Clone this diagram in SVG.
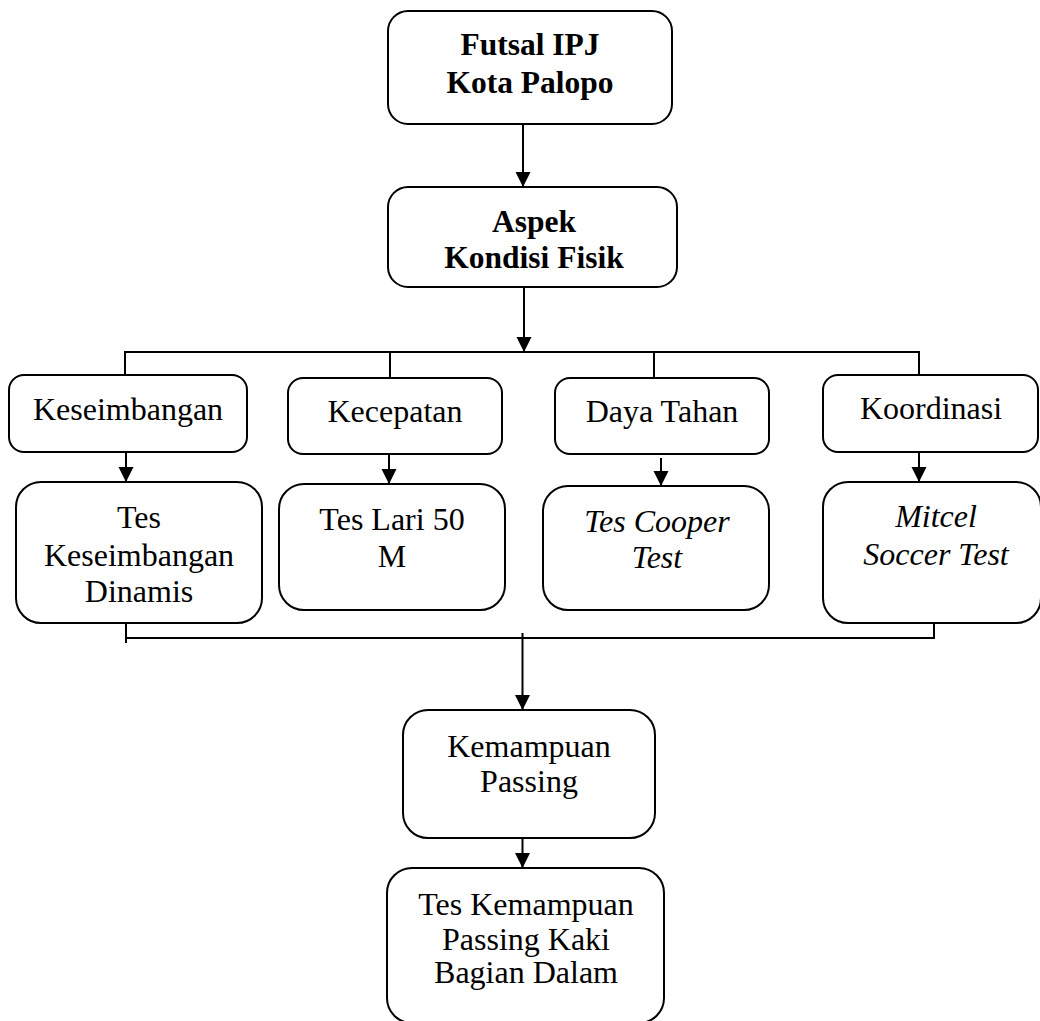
<svg xmlns="http://www.w3.org/2000/svg" width="1040" height="1021" viewBox="0 0 1040 1021">
<style>
.box{fill:#fff;stroke:#000;stroke-width:2}
.t{font-family:"Liberation Serif","Times New Roman",serif;font-size:32px;fill:#000;text-anchor:middle}
.b{font-weight:bold;font-size:31.5px}
.i{font-style:italic}
.ln{fill:none;stroke:#000;stroke-width:2}
</style>
<defs>
<marker id="ah" markerUnits="userSpaceOnUse" markerWidth="16" markerHeight="16" viewBox="0 0 16 16" refX="15" refY="8" orient="auto">
<path d="M0,0.5 L15,8 L0,15.5 Z" fill="#000"/>
</marker>
</defs>
<rect width="1040" height="1021" fill="#fff"/>
<g id="connectors">
<line class="ln" x1="523" y1="124" x2="523" y2="187" marker-end="url(#ah)"/>
<line class="ln" x1="524" y1="287" x2="524" y2="352" marker-end="url(#ah)"/>
<path class="ln" d="M125,375 V352 H919 V375"/>
<line class="ln" x1="390" y1="352" x2="390" y2="378"/>
<line class="ln" x1="654" y1="352" x2="654" y2="378"/>
<line class="ln" x1="126" y1="452" x2="126" y2="482" marker-end="url(#ah)"/>
<line class="ln" x1="389" y1="454" x2="389" y2="484" marker-end="url(#ah)"/>
<line class="ln" x1="661" y1="458" x2="661" y2="486" marker-end="url(#ah)"/>
<line class="ln" x1="919" y1="452" x2="919" y2="482" marker-end="url(#ah)"/>
<path class="ln" d="M126,623 V643 M126,638 H934 V623"/>
<line class="ln" x1="522.5" y1="633" x2="522.5" y2="710" marker-end="url(#ah)"/>
<line class="ln" x1="522.5" y1="838" x2="522.5" y2="868" marker-end="url(#ah)"/>
</g>
<g id="n-futsal">
<rect class="box" x="388" y="11" width="284" height="113" rx="20"/>
<text class="t b" x="530" y="55">Futsal IPJ</text>
<text class="t b" x="530" y="93">Kota Palopo</text>
</g>
<g id="n-aspek">
<rect class="box" x="388" y="187" width="289" height="100" rx="20"/>
<text class="t b" x="534" y="232">Aspek</text>
<text class="t b" x="534" y="268">Kondisi Fisik</text>
</g>
<g id="n-keseimbangan">
<rect class="box" x="9" y="375" width="238" height="77" rx="15"/>
<text class="t" x="128" y="420">Keseimbangan</text>
</g>
<g id="n-kecepatan">
<rect class="box" x="288" y="378" width="214" height="76" rx="15"/>
<text class="t" x="395" y="422">Kecepatan</text>
</g>
<g id="n-dayatahan">
<rect class="box" x="555" y="378" width="214" height="76" rx="15"/>
<text class="t" x="662" y="422">Daya Tahan</text>
</g>
<g id="n-koordinasi">
<rect class="box" x="823" y="375" width="215" height="77" rx="15"/>
<text class="t" x="931" y="419">Koordinasi</text>
</g>
<g id="n-tes-keseimbangan">
<rect class="box" x="16" y="482" width="246" height="141" rx="25"/>
<text class="t" x="139" y="528">Tes</text>
<text class="t" x="139" y="566">Keseimbangan</text>
<text class="t" x="139" y="602">Dinamis</text>
</g>
<g id="n-tes-lari">
<rect class="box" x="279" y="484" width="226" height="126" rx="25"/>
<text class="t" x="392" y="530">Tes Lari 50</text>
<text class="t" x="392" y="567">M</text>
</g>
<g id="n-cooper">
<rect class="box" x="543" y="486" width="226" height="124" rx="25"/>
<text class="t i" x="657" y="532">Tes Cooper</text>
<text class="t i" x="657" y="568">Test</text>
</g>
<g id="n-mitcel">
<rect class="box" x="823" y="482" width="218" height="141" rx="25"/>
<text class="t i" x="936" y="527">Mitcel</text>
<text class="t i" x="936" y="565">Soccer Test</text>
</g>
<g id="n-kemampuan">
<rect class="box" x="403" y="710" width="252" height="128" rx="25"/>
<text class="t" x="529" y="757">Kemampuan</text>
<text class="t" x="529" y="792">Passing</text>
</g>
<g id="n-tes-kemampuan">
<rect class="box" x="387" y="868" width="277" height="155" rx="25"/>
<text class="t" x="526" y="915">Tes Kemampuan</text>
<text class="t" x="526" y="950">Passing Kaki</text>
<text class="t" x="526" y="983">Bagian Dalam</text>
</g>
</svg>
